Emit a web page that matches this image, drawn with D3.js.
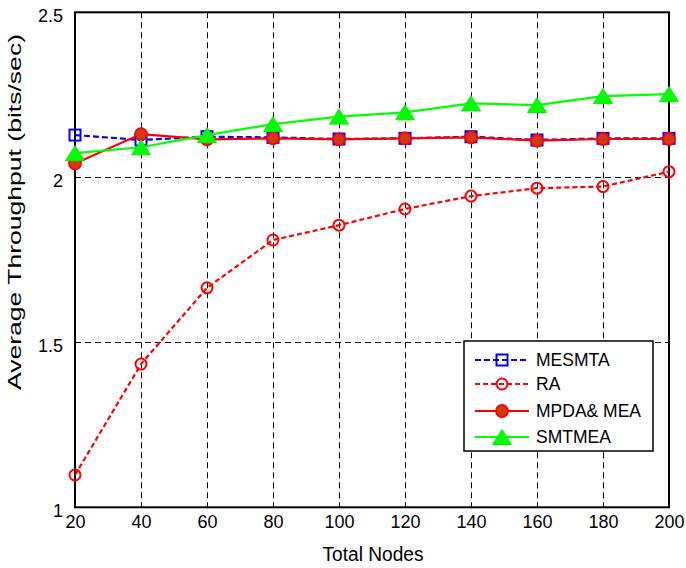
<!DOCTYPE html>
<html>
<head>
<meta charset="utf-8">
<script src="https://cdn.jsdelivr.net/npm/d3@7"></script>
<style>
  html, body { margin: 0; padding: 0; background: #fff; }
  svg text { font-family: "Liberation Sans", Arial, sans-serif; }
</style>
</head>
<body>
<svg id="chart" width="686" height="568"></svg>
<script>
// Node counts on the x axis
const nodes = [20, 40, 60, 80, 100, 120, 140, 160, 180, 200];
// Average throughput (bits/sec) per scheme
const mesmta = [2.128, 2.113, 2.123, 2.121, 2.116, 2.118, 2.123, 2.113, 2.118, 2.118];
const ra     = [1.098, 1.434, 1.665, 1.810, 1.855, 1.904, 1.943, 1.967, 1.972, 2.017];
const mpda   = [2.042, 2.131, 2.115, 2.118, 2.115, 2.118, 2.121, 2.111, 2.116, 2.116];
const smtmea = [2.073, 2.091, 2.128, 2.161, 2.184, 2.197, 2.224, 2.219, 2.246, 2.252];
const seriesNames = ["MESMTA", "RA", "MPDA& MEA", "SMTMEA"];
const yTicks = [1, 1.5, 2, 2.5];

const svg = d3.select("#chart");
const m = { left: 75, right: 669, top: 12.3, bottom: 507.3 };

const x = d3.scaleLinear().domain([20, 200]).range([m.left, m.right]);
const y = d3.scaleLinear().domain([1, 2.5]).range([m.bottom, m.top]);
const snap = v => Math.round(v) + 0.5;

// dashed grid
const grid = svg.append("g");
grid.selectAll("line.vx").data(nodes.slice(1, -1)).join("line")
  .attr("x1", d => snap(x(d))).attr("x2", d => snap(x(d)))
  .attr("y1", m.top).attr("y2", m.bottom)
  .attr("stroke", "#000").attr("stroke-width", 1).attr("stroke-dasharray", "6,4");
grid.selectAll("line.hy").data(yTicks.slice(1, -1)).join("line")
  .attr("x1", m.left).attr("x2", m.right)
  .attr("y1", d => snap(y(d))).attr("y2", d => snap(y(d)))
  .attr("stroke", "#000").attr("stroke-width", 1).attr("stroke-dasharray", "6,4");

// axes
const xAxis = d3.axisBottom(x).tickValues(nodes).tickSize(0).tickPadding(8).tickFormat(d3.format("d"));
const gx = svg.append("g").attr("transform", `translate(0,${m.bottom})`).call(xAxis);
gx.select(".domain").remove();
gx.selectAll("text").attr("font-size", 18).attr("fill", "#000").attr("dy", "0.72em");

const yAxis = d3.axisLeft(y).tickValues(yTicks).tickSize(0).tickPadding(12).tickFormat(d => String(d));
const gy = svg.append("g").attr("transform", `translate(${m.left},0)`).call(yAxis);
gy.select(".domain").remove();
gy.selectAll("text").attr("font-size", 18).attr("fill", "#000").attr("dy", "0.5em");

// plot frame
svg.append("rect").attr("x", m.left).attr("y", m.top)
  .attr("width", m.right - m.left).attr("height", m.bottom - m.top)
  .attr("fill", "none").attr("stroke", "#000").attr("stroke-width", 2);

// axis titles
svg.append("text").attr("x", 373).attr("y", 561)
  .attr("text-anchor", "middle").attr("font-size", 20)
  .attr("textLength", 101).attr("lengthAdjust", "spacingAndGlyphs").text("Total Nodes");
svg.append("text").attr("transform", "translate(21,212) rotate(-90)")
  .attr("text-anchor", "middle").attr("font-size", 18)
  .attr("textLength", 356).attr("lengthAdjust", "spacingAndGlyphs")
  .text("Average Throughput (bits/sec)");

const line = d3.line().x((d, i) => x(nodes[i])).y(d => y(d));

function drawMarker(g, type, cx, cy) {
  if (type === "square") {
    g.append("rect").attr("x", cx - 5.5).attr("y", cy - 5.5).attr("width", 11).attr("height", 11)
      .attr("fill", "none").attr("stroke", "#0000ff").attr("stroke-width", 2);
  } else if (type === "ocircle") {
    g.append("circle").attr("cx", cx).attr("cy", cy).attr("r", 5.5)
      .attr("fill", "none").attr("stroke", "#ff0000").attr("stroke-width", 2);
  } else if (type === "fcircle") {
    g.append("circle").attr("cx", cx).attr("cy", cy).attr("r", 6)
      .attr("fill", "#d23a14").attr("stroke", "#ff0000").attr("stroke-width", 1.8);
  } else if (type === "triangle") {
    const w = 9.5, h = 7.5;
    g.append("path")
      .attr("d", `M${cx},${cy - h}L${cx + w},${cy + h}L${cx - w},${cy + h}Z`)
      .attr("fill", "#00ff00").attr("stroke", "#00ee00").attr("stroke-width", 1);
  }
}

const series = [
  { name: seriesNames[0], values: mesmta, color: "#0000ff", dash: "6,3", marker: "square" },
  { name: seriesNames[1], values: ra,     color: "#ff0000", dash: "5,3", marker: "ocircle" },
  { name: seriesNames[2], values: mpda,   color: "#ff0000", dash: null,  marker: "fcircle" },
  { name: seriesNames[3], values: smtmea, color: "#00ff00", dash: null,  marker: "triangle" }
];

series.forEach(s => {
  const g = svg.append("g");
  g.append("path").attr("d", line(s.values)).attr("fill", "none")
    .attr("stroke", s.color).attr("stroke-width", 2.2)
    .attr("stroke-dasharray", s.dash);
  s.values.forEach((v, i) => drawMarker(g, s.marker, x(nodes[i]), y(v)));
});

// legend
const lg = svg.append("g");
lg.append("rect").attr("x", 464).attr("y", 341).attr("width", 189).attr("height", 110)
  .attr("fill", "#fff").attr("stroke", "#000").attr("stroke-width", 1.5);
const rowY = [360, 384, 411, 437];
series.forEach((s, i) => {
  const yy = rowY[i];
  lg.append("line").attr("x1", 475).attr("x2", 529).attr("y1", yy).attr("y2", yy)
    .attr("stroke", s.color).attr("stroke-width", 2.2).attr("stroke-dasharray", s.dash);
  drawMarker(lg, s.marker, 502, yy);
  lg.append("text").attr("x", 536).attr("y", yy).attr("dy", "0.36em")
    .attr("font-size", 17.5).text(s.name);
});
</script>
</body>
</html>
